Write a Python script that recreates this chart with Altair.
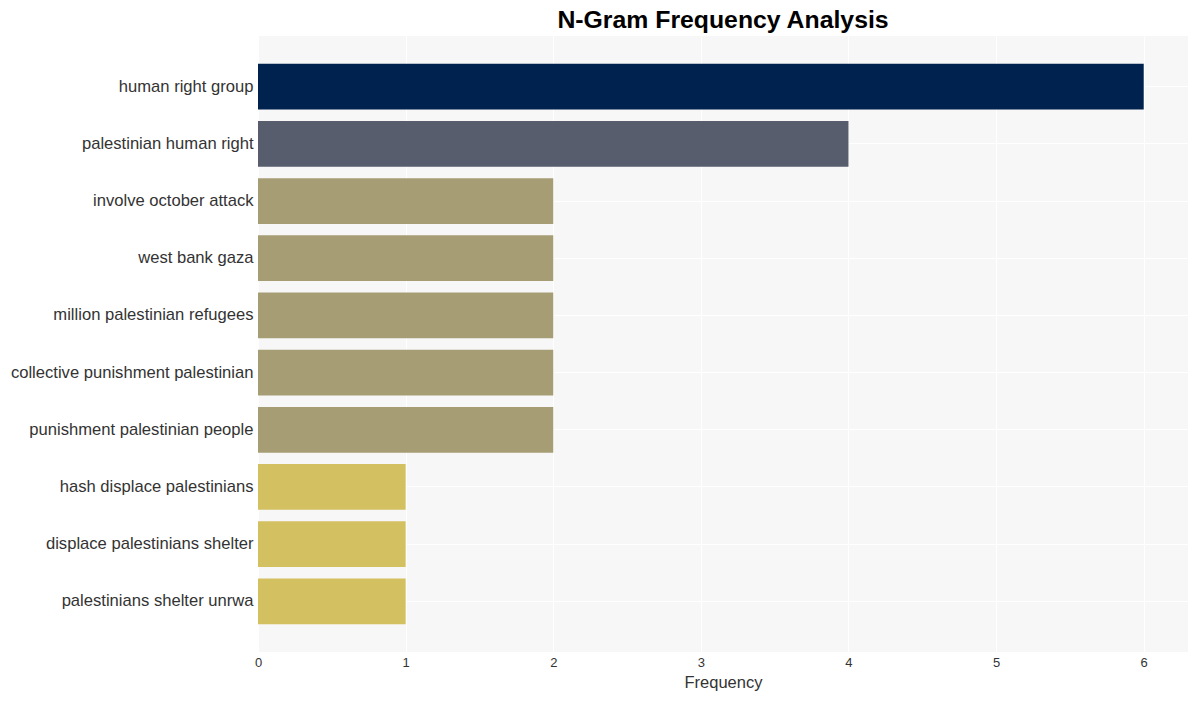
import altair as alt
import pandas as pd

ngrams = [
    "human right group",
    "palestinian human right",
    "involve october attack",
    "west bank gaza",
    "million palestinian refugees",
    "collective punishment palestinian",
    "punishment palestinian people",
    "hash displace palestinians",
    "displace palestinians shelter",
    "palestinians shelter unrwa",
]
frequency = [6, 4, 2, 2, 2, 2, 2, 1, 1, 1]
x_ticks = [0, 1, 2, 3, 4, 5, 6]

df = pd.DataFrame({"ngram": ngrams, "Frequency": frequency})

FONT = "Liberation Sans"

chart = (
    alt.Chart(df)
    .mark_bar()
    .encode(
        x=alt.X(
            "Frequency:Q",
            scale=alt.Scale(domain=[0, 6.3], nice=False),
            axis=alt.Axis(
                values=x_ticks,
                format="d",
                title="Frequency",
                titleFontSize=16.5,
                titleFontWeight="normal",
                titleColor="#333333",
                titlePadding=5,
                labelFontSize=13,
                labelColor="#333333",
                labelPadding=4,
                labelFlush=False,
                ticks=False,
                domain=False,
                grid=True,
                gridColor="white",
                gridWidth=1,
            ),
        ),
        y=alt.Y(
            "ngram:N",
            sort=ngrams,
            scale=alt.Scale(paddingInner=0.2, paddingOuter=0.485),
            axis=alt.Axis(
                title=None,
                labelFontSize=16.6,
                labelColor="#333333",
                labelPadding=5,
                labelLimit=400,
                ticks=False,
                domain=False,
                grid=True,
                gridColor="white",
                bandPosition=0.5,
            ),
        ),
        color=alt.Color(
            "Frequency:O",
            scale=alt.Scale(
                domain=[1, 2, 4, 6],
                range=["#d3c060", "#a69d75", "#575d6d", "#00224e"],
            ),
            legend=None,
        ),
    )
    .properties(
        width=930,
        height=616,
        autosize=alt.AutoSizeParams(type="none"),
        padding={"left": 258, "top": 36, "right": 9, "bottom": 49},
        title=alt.Title(
            "N-Gram Frequency Analysis",
            fontSize=24.8,
            fontWeight="bold",
            font=FONT,
            color="black",
            anchor="middle",
            offset=3,
        ),
    )
    .configure(font=FONT)
    .configure_view(fill="#f7f7f7", stroke=None)
)

chart.save("out.html", embed_options={"renderer": "svg", "actions": False})
